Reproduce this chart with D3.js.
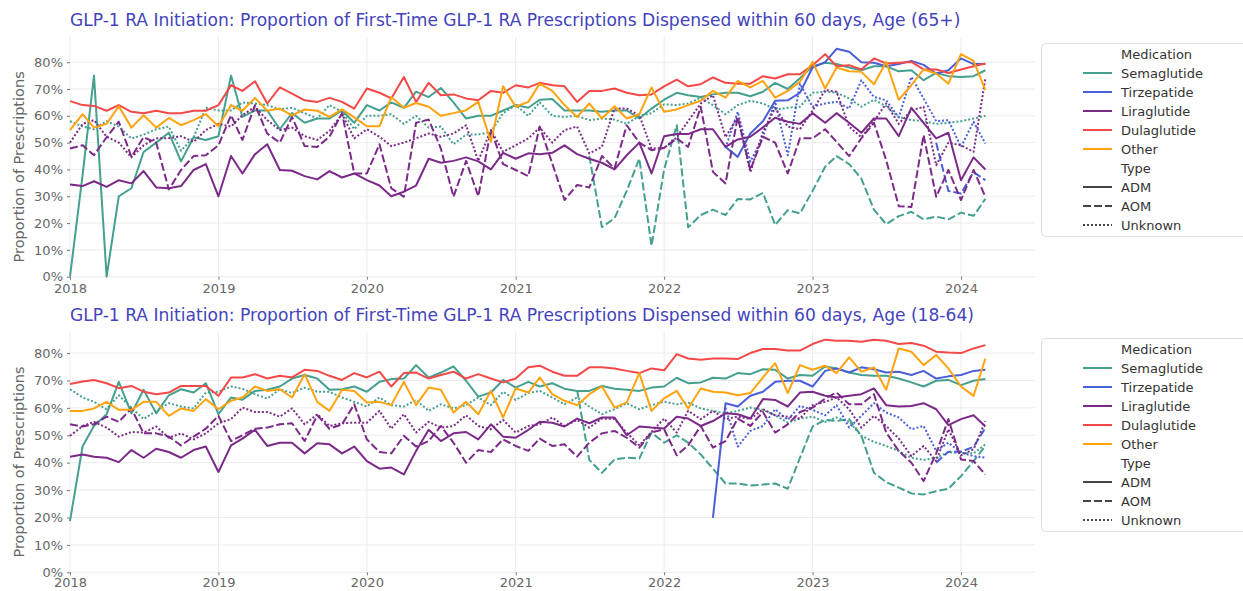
<!DOCTYPE html>
<html>
<head>
<meta charset="utf-8">
<script src="https://cdn.jsdelivr.net/npm/d3@7"></script>
<style>
  body { margin: 0; background: #fff; }
  svg { font-family: "DejaVu Sans", sans-serif; }
</style>
</head>
<body>
<svg id="chart" width="1243" height="591"></svg>
<script>
const width = 1243;
const height = 591;

// months 2018-01 .. 2024-03
const months = d3.timeMonth.range(new Date(2018, 0, 1), new Date(2024, 3, 1));
const yearTicks = [2018, 2019, 2020, 2021, 2022, 2023, 2024];
const pctTicks = [0, 0.1, 0.2, 0.3, 0.4, 0.5, 0.6, 0.7, 0.8];

const medications = ["Semaglutide", "Tirzepatide", "Liraglutide", "Dulaglutide", "Other"];
const types = ["ADM", "AOM", "Unknown"];
const medColors = ["#45a08f", "#4a5fd8", "#7b2a88", "#f54848", "#ffa30f"];
const typeDash = ["", "8,3", "2,2"];

const N = null;

// ---- Age 65+ (values in %) ----
const semaAdm65 = [
  0, 38, 75, 0, 30, 33, 46.5, 50, 53.7, 43, 52, 51,
  52.4, 75, 59.6, 62, 62, 55, 61, 57.4, 59, 59, 62, 57.4,
  64, 62, 65, 63, 69, 67, 70.4, 65, 59, 60, 60, 62,
  64, 63, 66, 66.3, 62, 62, 62, 61.5, 62, 62, 59, 62.7,
  66, 68.6, 67.7, 67, 68, 68.6, 68.6, 67.3, 69, 72.3, 70, 74,
  78.5, 79.8, 79.3, 78, 77, 78.5, 78.5, 76.6, 77, 73.3, 76, 74.8,
  74.5, 74.8, 77];
const semaAom65 = [
  N, N, N, N, N, N, N, N, N, N, N, N,
  N, N, N, N, N, N, N, N, N, N, N, N,
  N, N, N, N, N, N, N, N, N, N, N, N,
  N, N, N, N, N, N, 45, 18.5, 21.8, 32, 44, 11.5,
  40, 56.5, 18.4, 23, 25, 23, 29, 28.8, 31.3, 19.3, 24.8, 23.6,
  32, 41, 45, 42, 36.6, 25, 19.6, 22.6, 24.2, 21.4, 22.4, 21.4,
  23.9, 22.7, 29];
const semaUnk65 = [
  58, 56, 55, 58, 56, 51.5, 53, 55, 56, 47, 52, 63,
  62, 62, 65, 64.6, 64, 62.4, 63, 61, 59, 64, 61.5, 55,
  60, 60, 60.6, 57, 60, 55.6, 56, 49.4, 53, 53, 54, 61,
  64, 60, 65, 60, 59.6, 60, 58.4, 59, 58.6, 57, 60, 61,
  64.3, 64, 64.6, 66.8, 64, 60.6, 64, 65.6, 64.6, 62.4, 63, 63.4,
  68.6, 69, 68.6, 66.5, 63.4, 66, 63.6, 59.6, 58.4, 58, 57, 57.4,
  58, 59, 60];
const tirzAdm65 = [
  N, N, N, N, N, N, N, N, N, N, N, N,
  N, N, N, N, N, N, N, N, N, N, N, N,
  N, N, N, N, N, N, N, N, N, N, N, N,
  N, N, N, N, N, N, N, N, N, N, N, N,
  N, N, N, N, N, 48.4, 44.7, 53.4, 58, 65.6, 65.8, 68.6,
  78, 80, 85, 83.9, 80, 79.8, 78.5, 79.3, 80.5, 79, 75.8, 77,
  81.4, 79.3, 79.3];
const tirzAom65 = [
  N, N, N, N, N, N, N, N, N, N, N, N,
  N, N, N, N, N, N, N, N, N, N, N, N,
  N, N, N, N, N, N, N, N, N, N, N, N,
  N, N, N, N, N, N, N, N, N, N, N, N,
  N, N, N, N, N, N, N, N, N, N, N, N,
  N, N, N, N, N, N, N, N, N, N, 50, 32,
  31, 39, 36];
const tirzUnk65 = [
  N, N, N, N, N, N, N, N, N, N, N, N,
  N, N, N, N, N, N, N, N, N, N, N, N,
  N, N, N, N, N, N, N, N, N, N, N, N,
  N, N, N, N, N, N, N, N, N, N, N, N,
  N, N, N, N, N, 48, 61.5, 42.9, 52.2, 65.2, 45.3, 72,
  63.4, 64.6, 65.2, 62.7, 73.3, 67, 65.8, 59.4, 74.5, 66.5, 58, 58.4,
  48.4, 57.8, 49.7];
const liraAdm65 = [
  34.4, 33.8, 35.6, 33.5, 36, 34.8, 39.4, 33.3, 33, 33.8, 39.8, 42,
  30, 45, 38.5, 45.7, 49.4, 39.8, 39.5, 37.5, 36.3, 39.4, 37, 38.5,
  36, 34, 30, 31.7, 34, 44, 42.5, 43.2, 44.5, 43, 40, 46.2,
  44, 46, 45.7, 46.2, 49, 45.7, 44, 42.5, 40, 45.3, 50, 38.5,
  52.4, 53.2, 53.2, 55, 55, 48.4, 51.2, 52.2, 55.7, 59.3, 57.8, 57,
  61, 57.4, 61, 57.4, 53.7, 59, 59, 52.4, 63, 57.4, 51.6, 53.7,
  36, 44.5, 40];
const liraAom65 = [
  47.8, 49, 45.3, 52, 57.8, 44.7, 52, 50, 32.5, 39.8, 45, 45.3,
  49, 60.2, 51, 64, 53.4, 50, 59.6, 48.7, 48.4, 52.2, 61, 38.5,
  38.5, 49.4, 33, 29.8, 57.4, 58.6, 47.8, 29.8, 43.2, 30, 54.7, 42,
  39.8, 37.5, 56, 42.2, 28.6, 34.2, 33.3, 45, 40.4, 56.5, 50, 47.2,
  48, 51.6, 48.4, 63.4, 39.1, 34.8, 59.6, 39.8, 52.2, 50, 38.5, 51.6,
  51.6, 55, 50.3, 45, 51.6, 57.4, 43.5, 26.3, 26, 52.8, 29.8, 39.8,
  28.6, 39.8, 29.8];
const liraUnk65 = [
  50, 57, 58.4, 52.2, 50, 44.5, 49, 51.6, 51.6, 52.4, 50.3, 54.7,
  57, 56, 60.2, 63.4, 58.4, 54.7, 55.6, 52.4, 51, 54.4, 60.6, 51.6,
  55, 52.2, 48.7, 50, 51.6, 53.4, 52.2, 53.4, 56.5, 43.2, 54.7, 46.6,
  49, 51.6, 55.6, 50, 54.7, 56, 46, 48.4, 62.7, 62.7, 60.2, 47.8,
  48, 52, 58, 64.6, 67.7, 52, 59.6, 39, 54, 63, 56, 55,
  62, 69.6, 69, 56, 52, 58, 64.6, 57, 62, 63.4, 41.6, 50,
  49, 46.6, 74];
const dulaAdm65 = [
  65.5, 64, 63.7, 61.9, 64, 61.5, 61, 61.9, 61, 61, 61.9, 61.9,
  64, 71.4, 69.3, 72.9, 64.6, 70.6, 68.3, 65.8, 65.2, 66.7, 65.2, 62.7,
  70.2, 68.6, 66.5, 74.5, 65.2, 72.3, 67.7, 68, 66.5, 65.8, 69.3, 68.6,
  71.4, 70.6, 72.3, 71.4, 71, 65.2, 69.3, 69.3, 70.2, 68.6, 67.7, 68,
  71, 73.5, 71, 71.8, 74.3, 72.3, 72, 72, 74.8, 73.9, 75.5, 75.5,
  78.9, 83, 78.5, 78.9, 77.3, 81.4, 79.5, 79.8, 80.1, 77.3, 77.3, 76,
  77.3, 78.5, 79.5];
const otherAdm65 = [
  54.7, 60.6, 55.6, 57, 63.6, 55.6, 60.2, 55.6, 59.2, 56.5, 58.4, 60.6,
  56.1, 64, 61.9, 66.7, 61.9, 62.7, 60.2, 62.4, 61.9, 59.6, 62.4, 59.4,
  56.1, 56.1, 67, 63, 64.8, 63.4, 60, 61, 62.1, 65.2, 50.3, 71,
  63.4, 65.2, 72, 69.3, 64, 59.6, 64.6, 59, 63.6, 59, 60.6, 70.6,
  61.5, 62.4, 64, 65.6, 69.3, 66.8, 73, 70.6, 73, 66.8, 69.3, 72.7,
  80.1, 70.2, 78, 76.6, 76.4, 71.8, 80.1, 66, 71.4, 77.3, 75.8, 72,
  83, 80.5, 69.6];

// ---- Age 18-64 (values in %) ----
const semaAdm18 = [
  18.7, 46, 53.4, 57.7, 69.5, 58, 66.6, 58, 64.6, 66.8, 65.6, 69,
  57.7, 63.8, 63, 66.2, 66.6, 67.8, 70.7, 72, 70.7, 66.6, 66.8, 67.8,
  65.9, 69.5, 70.5, 70.7, 75.6, 71, 72.9, 75.1, 69.9, 64.1, 65.6, 70.2,
  67.4, 69.5, 67.8, 69, 67, 66.2, 66.2, 68, 67, 66.6, 66.2, 67.4,
  67.8, 71, 69, 69.3, 71, 70.7, 72.7, 72.3, 74.1, 73.9, 70.7, 72,
  71.7, 75.1, 74.4, 72.9, 72, 71.7, 71.7, 70.7, 69.3, 67.8, 69.9, 70.2,
  68.3, 69.9, 70.5];
const semaAom18 = [
  N, N, N, N, N, N, N, N, N, N, N, N,
  N, N, N, N, N, N, N, N, N, N, N, N,
  N, N, N, N, N, N, N, N, N, N, N, N,
  N, N, N, N, N, 66.5, 41, 36.3, 41.2, 41.8, 41.5, 51,
  47.3, 50, 47.3, 43, 37.8, 32.4, 32.4, 31.7, 32, 32.4, 30.5, 41.8,
  53.2, 55.6, 55.2, 55.9, 49.8, 36.3, 32.9, 30.9, 28.8, 28.4, 29.6, 30.5,
  35.1, 40.6, 46.1];
const semaUnk18 = [
  66.8, 63.8, 62.2, 59.5, 64.6, 60.1, 55.9, 58.9, 61.7, 60.5, 59.8, 65.6,
  65.9, 67.8, 67, 65, 63.4, 66.8, 65.4, 67.4, 65.9, 65.9, 63.8, 62.2,
  60.5, 63.8, 61, 60.5, 62.9, 58.9, 61.3, 59.8, 61, 63.8, 61, 65.9,
  62.9, 65.4, 66.2, 63.8, 61.3, 63.8, 60.5, 57.7, 59.5, 61.7, 59.5, 61,
  62.3, 61.3, 62, 59.8, 58.9, 58, 58.9, 60.1, 59.3, 57.3, 54.6, 56.1,
  56.8, 54.9, 56.5, 54.9, 49.8, 47.6, 46.1, 44.3, 41.8, 41, 41.8, 43.9,
  43.4, 43.4, 46.7];
const tirzAdm18 = [
  N, N, N, N, N, N, N, N, N, N, N, N,
  N, N, N, N, N, N, N, N, N, N, N, N,
  N, N, N, N, N, N, N, N, N, N, N, N,
  N, N, N, N, N, N, N, N, N, N, N, N,
  N, N, N, N, 19.9, 61.7, 60.5, 64.4, 65.9, 69.5, 69.9, 69.9,
  67.8, 73.5, 74.4, 72.9, 74.8, 74.1, 72.9, 73.2, 72, 73.5, 70.7, 71.5,
  72, 73.5, 73.9];
const tirzAom18 = [
  N, N, N, N, N, N, N, N, N, N, N, N,
  N, N, N, N, N, N, N, N, N, N, N, N,
  N, N, N, N, N, N, N, N, N, N, N, N,
  N, N, N, N, N, N, N, N, N, N, N, N,
  N, N, N, N, N, N, N, N, N, N, N, N,
  N, N, N, N, N, N, N, N, N, N, 40, 44,
  44, 45.8, 52.7];
const tirzUnk18 = [
  N, N, N, N, N, N, N, N, N, N, N, N,
  N, N, N, N, N, N, N, N, N, N, N, N,
  N, N, N, N, N, N, N, N, N, N, N, N,
  N, N, N, N, N, N, N, N, N, N, N, N,
  N, N, N, N, N, 60, 45.9, 51.6, 53.4, 59.5, 55.6, 60.7,
  59.3, 57.3, 61, 52.8, 57.1, 61.7, 58.3, 56.5, 52.2, 53.4, 44.3, 47.3,
  43.7, 42.4, 41.8];
const liraAdm18 = [
  42.2, 43, 42.2, 41.8, 40.2, 44.6, 41.8, 45.1, 43.9, 41.8, 44.6, 45.9,
  36.6, 46.3, 48.8, 52, 46.1, 47.3, 47.3, 43.4, 47.1, 46.7, 43.4, 45.9,
  40.6, 37.8, 38.2, 35.7, 44.3, 52, 47.9, 50.7, 51.2, 48.5, 54, 49.5,
  49.1, 52, 54.9, 54.6, 53.2, 56.1, 54.4, 56.5, 56.5, 50, 53.2, 52.8,
  52.5, 56.8, 56.1, 53.4, 55.2, 58, 57.7, 56.1, 63.2, 62.9, 60.5, 65.6,
  65.9, 64.4, 63.8, 64.4, 65, 67.1, 61, 60.5, 60.7, 61.7, 59.5, 53.7,
  55.9, 57.3, 53.2];
const liraAom18 = [
  54, 53.2, 54, 56.8, 54.9, 59.8, 50.7, 50.7, 49.5, 46.3, 49.5, 52.4,
  57.1, 47.9, 50, 52.4, 52.8, 54, 54.4, 47.9, 57.3, 52.4, 54, 61.3,
  48.5, 43.9, 43.4, 49.8, 45.9, 47.9, 53.4, 47.3, 40, 44.6, 43.9, 48.5,
  46.1, 44.3, 48.8, 46.1, 46.7, 42.2, 47.3, 50.7, 51.6, 49.1, 45.5, 51,
  52.2, 42.7, 46.3, 53.4, 45.5, 47.9, 56.1, 53.4, 58.5, 51, 54, 58.5,
  60.1, 63.4, 65.6, 61.3, 61.3, 65, 51, 44.3, 40, 33.3, 43.4, 55.9,
  41.2, 40.6, 35.7];
const liraUnk18 = [
  49.8, 53.4, 54.9, 52.8, 49.5, 51.2, 51, 53.2, 49.1, 50.7, 48.5, 50.7,
  54.4, 55.9, 60.1, 58.5, 58.5, 56.8, 59.8, 54, 57.7, 53.4, 54.4, 54.6,
  54.6, 58.9, 52.4, 57.7, 51, 54.9, 52.8, 53.4, 57.3, 53.4, 52.2, 55.6,
  51, 53.4, 54, 56.5, 53.4, 55.6, 52.8, 56.1, 55.9, 51, 46.3, 51.2,
  56.1, 51, 58.9, 55.9, 58.9, 55.9, 56.8, 55.9, 59.5, 57.3, 56.8, 56.1,
  61, 62.2, 63.8, 59.5, 52.8, 57.1, 53.4, 48.8, 42.4, 46.1, 40.6, 52.2,
  42.7, 44.9, 55.2];
const dulaAdm18 = [
  68.7, 69.6, 70.2, 69, 67.2, 68, 65.9, 65, 65.6, 68, 68, 68,
  64.4, 71.1, 71.1, 72.3, 70.7, 71.7, 71.1, 73.9, 73.5, 71.7, 70.2, 72.7,
  71.1, 73.2, 67.8, 72.7, 72.9, 70.7, 72, 73.2, 70.7, 72.3, 70.7, 69.3,
  70.7, 74.8, 75.4, 73.2, 71.7, 71.7, 74.8, 74.8, 74.4, 73.5, 72.7, 74.4,
  73.7, 79.6, 78, 77.6, 78, 78, 77.8, 80, 81.5, 81.5, 80.9, 80.9,
  83.3, 84.9, 84.5, 84.5, 84.1, 84.9, 84.5, 83.3, 83.7, 82.7, 80.5, 80.2,
  80, 81.7, 82.9];
const otherAdm18 = [
  58.9, 58.9, 59.8, 62.2, 59.3, 59.3, 62.2, 62.2, 57.1, 59.8, 58.9, 63.2,
  59.5, 62.6, 63.8, 67.8, 66.2, 66.8, 63.8, 72.3, 62.2, 58.9, 66.6, 66.2,
  62, 62.2, 61, 69.5, 61, 67.4, 66.6, 58.3, 62.2, 57.7, 66.2, 56.5,
  67.1, 65.6, 71.1, 65, 62.6, 61, 65, 67.8, 60.1, 62, 72.7, 58.9,
  63.5, 66.2, 59.8, 67.1, 65.9, 65.6, 64.6, 65.4, 71.1, 76.3, 65.4, 75.6,
  73.9, 75.4, 72.7, 78.4, 73.2, 74.8, 66.6, 81.7, 80.5, 75.6, 79.3, 74.4,
  67.8, 64.4, 78];

// [medication index, type index, values]
const series65 = [
  [0, 0, semaAdm65], [0, 1, semaAom65], [0, 2, semaUnk65],
  [1, 0, tirzAdm65], [1, 1, tirzAom65], [1, 2, tirzUnk65],
  [2, 0, liraAdm65], [2, 1, liraAom65], [2, 2, liraUnk65],
  [3, 0, dulaAdm65], [4, 0, otherAdm65]
];
const series18 = [
  [0, 0, semaAdm18], [0, 1, semaAom18], [0, 2, semaUnk18],
  [1, 0, tirzAdm18], [1, 1, tirzAom18], [1, 2, tirzUnk18],
  [2, 0, liraAdm18], [2, 1, liraAom18], [2, 2, liraUnk18],
  [3, 0, dulaAdm18], [4, 0, otherAdm18]
];

const titleBase = "GLP-1 RA Initiation: Proportion of First-Time GLP-1 RA Prescriptions Dispensed within 60 days, Age ";
const panels = [
  { title: titleBase + "(65+)", top: 37, bottom: 276.7, yMax: 0.894, series: series65, legendY: 43, xPad: 4 },
  { title: titleBase + "(18-64)", top: 331.7, bottom: 572.3, yMax: 0.878, series: series18, legendY: 338, xPad: 2.5 }
];

const svg = d3.select("#chart");
const left = 70, right = 1035;

const x = d3.scaleTime()
  .domain([new Date(2018, 0, 1), new Date(2024, 6, 1)])
  .range([left, right]);

panels.forEach(p => {
  const y = d3.scaleLinear().domain([0, p.yMax]).range([p.bottom, p.top]);
  const g = svg.append("g");

  // grid
  g.selectAll(".hgrid").data(pctTicks).enter().append("line")
    .attr("x1", left).attr("x2", right)
    .attr("y1", d => y(d)).attr("y2", d => y(d))
    .attr("stroke", "#ebebeb").attr("stroke-width", 1);
  g.selectAll(".vgrid").data(yearTicks).enter().append("line")
    .attr("x1", d => x(new Date(d, 0, 1))).attr("x2", d => x(new Date(d, 0, 1)))
    .attr("y1", p.top).attr("y2", p.bottom)
    .attr("stroke", "#ebebeb").attr("stroke-width", 1);

  // y axis
  const yAxis = g.append("g")
    .attr("transform", `translate(${left},0)`)
    .call(d3.axisLeft(y).tickValues(pctTicks).tickFormat(d3.format(".0%")).tickSize(3).tickPadding(4));
  yAxis.select(".domain").remove();
  yAxis.selectAll("line").attr("stroke", "#777");
  yAxis.selectAll("text").attr("fill", "#666").attr("font-size", 13)
    .attr("font-family", "DejaVu Sans");

  // x axis
  const xAxis = g.append("g")
    .attr("transform", `translate(0,${p.bottom})`)
    .call(d3.axisBottom(x).tickValues(yearTicks.map(d => new Date(d, 0, 1)))
      .tickFormat(d3.timeFormat("%Y")).tickSize(3).tickPadding(p.xPad));
  xAxis.select(".domain").remove();
  xAxis.selectAll("line").attr("stroke", "#777");
  xAxis.selectAll("text").attr("fill", "#666").attr("font-size", 13)
    .attr("font-family", "DejaVu Sans");

  // y label
  g.append("text")
    .attr("transform", `translate(24,${(p.top + p.bottom) / 2 + 10}) rotate(-90)`)
    .attr("text-anchor", "middle")
    .attr("fill", "#666")
    .attr("font-size", 14.5)
    .text("Proportion of Prescriptions");

  // title
  g.append("text")
    .attr("x", left)
    .attr("y", p.top - 11)
    .attr("fill", "#4343bd")
    .attr("font-size", 17.1)
    .text(p.title);

  // lines
  const line = d3.line()
    .defined(d => d.v !== null)
    .x(d => x(d.date))
    .y(d => y(d.v / 100));

  p.series.forEach(([mi, ti, values]) => {
    const pts = months.map((date, i) => ({ date: date, v: values[i] }));
    g.append("path")
      .datum(pts)
      .attr("d", line)
      .attr("fill", "none")
      .attr("stroke", medColors[mi])
      .attr("stroke-width", 2)
      .attr("stroke-dasharray", typeDash[ti])
      .attr("stroke-linejoin", "round");
  });

  // legend
  const lg = g.append("g").attr("transform", `translate(1041,${p.legendY})`);
  lg.append("rect")
    .attr("x", 0.5).attr("y", 0.5)
    .attr("width", 240).attr("height", 193)
    .attr("rx", 4)
    .attr("fill", "#fff")
    .attr("stroke", "#dddddd");
  const entries = [{ label: "Medication" }]
    .concat(medications.map((m, i) => ({ label: m, color: medColors[i], dash: "" })))
    .concat([{ label: "Type" }])
    .concat(types.map((t, i) => ({ label: t, color: "#444", dash: typeDash[i] })));
  entries.forEach((e, i) => {
    const ey = 11 + i * 19;
    if (e.color) {
      lg.append("line")
        .attr("x1", 42).attr("x2", 71)
        .attr("y1", ey).attr("y2", ey)
        .attr("stroke", e.color)
        .attr("stroke-width", 2)
        .attr("stroke-dasharray", e.dash);
    }
    lg.append("text")
      .attr("x", 80)
      .attr("y", ey + 4.5)
      .attr("fill", "#333")
      .attr("font-size", 13)
      .text(e.label);
  });
});
</script>
</body>
</html>
